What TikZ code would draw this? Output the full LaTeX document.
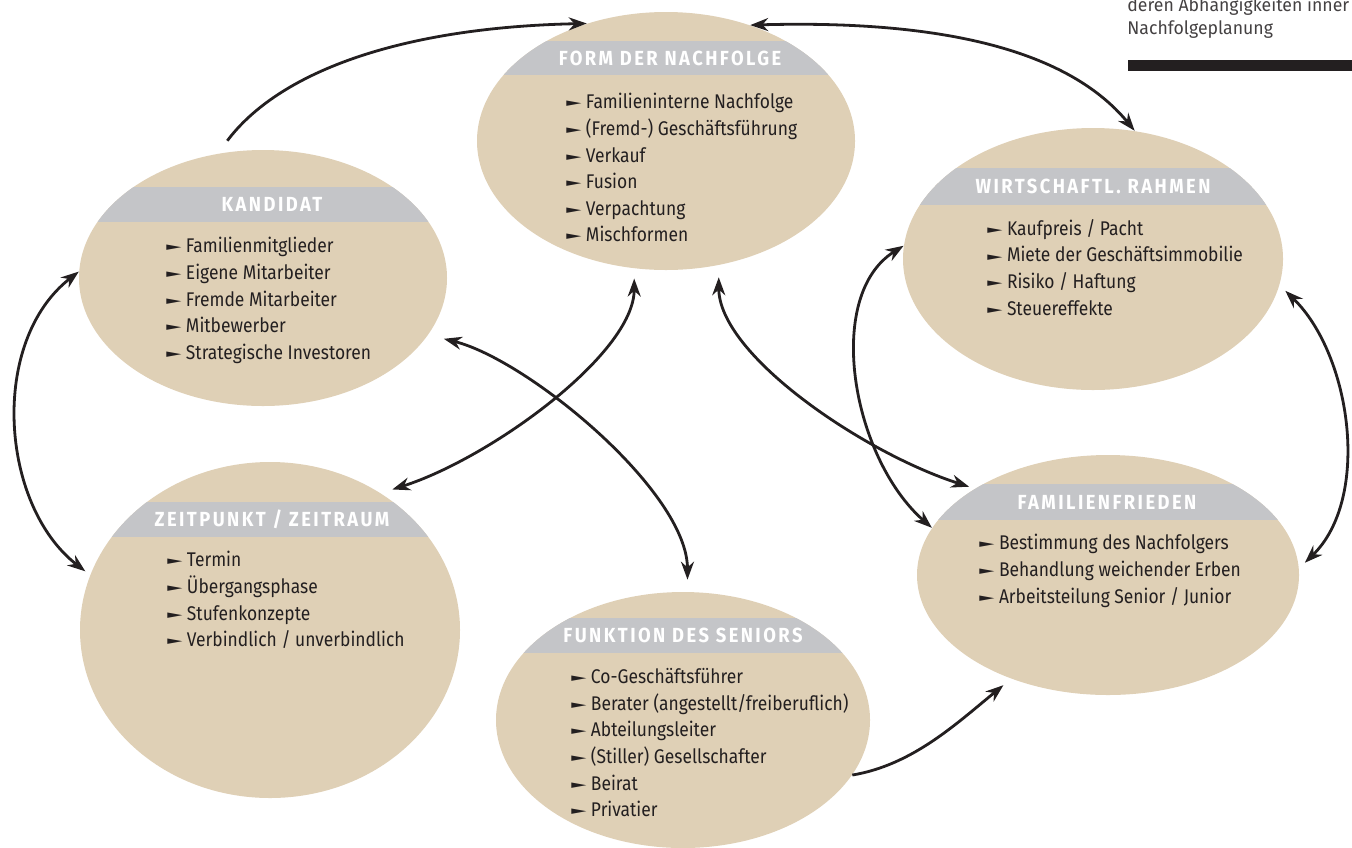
\documentclass[tikz,border=0pt]{standalone}
\usepackage{fontspec}
\setmainfont{Fira Sans}
\newfontfamily\listfont{Fira Sans}[FakeStretch=0.88]
\newfontfamily\headfont{Fira Sans}[LetterSpace=12, FakeStretch=0.9]
\newfontfamily\notefont{Fira Sans}[FakeStretch=0.96]
\newfontfamily\tipfont{DejaVu Sans}
\usepackage{tikz}
\usetikzlibrary{shapes.geometric,arrows.meta,calc}
\definecolor{ovalbeige}{HTML}{DFD0B6}
\definecolor{bandgray}{HTML}{C4C5C8}
\definecolor{inkdark}{HTML}{231F20}
\newcommand{\pointer}{\raisebox{0.1em}{\scalebox{1.0}[0.55]{\tipfont ►}}\hspace{0.22em}}

\tikzset{
  oval/.style n args={4}{ellipse, fill=ovalbeige, inner sep=0pt,
    minimum width=#1, minimum height=#2,
    path picture={\fill[bandgray]
      ($(path picture bounding box.north west)+(0,#3)$) rectangle
      ($(path picture bounding box.north east)+(0,#4)$);}},
  headline/.style={font=\headfont\bfseries\fontsize{10.2}{11}\selectfont, text=white, inner sep=0pt},
  itemlist/.style={font=\listfont\fontsize{9.9}{13.3}\selectfont, text=inkdark,
    align=left, anchor=north west, inner sep=0pt},
  twoarrow/.style={draw=inkdark, line width=1.4pt,
    {Stealth[length=9pt,width=6.5pt]}-{Stealth[length=9pt,width=6.5pt]}},
  onearrow/.style={draw=inkdark, line width=1.4pt, -{Stealth[length=9pt,width=6.5pt]}},
}

\begin{document}
\begin{tikzpicture}[x=0.5pt, y=-0.5pt]
  \useasboundingbox (0,0) rectangle (1352,847);

  % ovals with their grey title band
  \node[oval={189pt}{129pt}{29}{63}] (form) at (666,141) {};
  \node[oval={184pt}{128pt}{37}{72}] (kand) at (263,278) {};
  \node[oval={190pt}{168pt}{40}{75}] (zeit) at (270,630) {};
  \node[oval={190pt}{131pt}{40}{77}] (wirt) at (1093,259) {};
  \node[oval={191pt}{120pt}{29}{65}] (fam)  at (1108,575) {};
  \node[oval={187pt}{128pt}{26}{61}] (funk) at (683,720) {};

  % titles
  \node[headline] (formhead) at (670,58)    {FORM DER NACHFOLGE};
  \node[headline] (kandhead) at (272,204.5) {KANDIDAT};
  \node[headline] (zeithead) at (272,519.5) {ZEITPUNKT / ZEITRAUM};
  \node[headline] (wirthead) at (1093,186.5) {WIRTSCHAFTL. RAHMEN};
  \node[headline] (famhead)  at (1107,502)  {FAMILIENFRIEDEN};
  \node[headline] (funkhead) at (683,635.5) {FUNKTION DES SENIORS};

  % lists
  \node[itemlist] (formlist) at (566,93) {\pointer Familieninterne Nachfolge\\
    \pointer (Fremd-) Geschäftsführung\\ \pointer Verkauf\\ \pointer Fusion\\
    \pointer Verpachtung\\ \pointer Mischformen};
  \node[itemlist] (kandlist) at (166,237) {\pointer Familienmitglieder\\
    \pointer Eigene Mitarbeiter\\ \pointer Fremde Mitarbeiter\\ \pointer Mitbewerber\\
    \pointer Strategische Investoren};
  \node[itemlist] (zeitlist) at (167,551) {\pointer Termin\\ \pointer Übergangsphase\\
    \pointer Stufenkonzepte\\ \pointer Verbindlich / unverbindlich};
  \node[itemlist] (wirtlist) at (987,219) {\pointer Kaufpreis / Pacht\\
    \pointer Miete der Geschäftsimmobilie\\ \pointer Risiko / Haftung\\
    \pointer Steuereffekte};
  \node[itemlist] (famlist) at (979,534) {\pointer Bestimmung des Nachfolgers\\
    \pointer Behandlung weichender Erben\\ \pointer Arbeitsteilung Senior / Junior};
  \node[itemlist] (funklist) at (571,668) {\pointer Co-Geschäftsführer\\
    \pointer Berater (angestellt/freiberuflich)\\ \pointer Abteilungsleiter\\
    \pointer (Stiller) Gesellschafter\\ \pointer Beirat\\ \pointer Privatier};

  % caption corner
  \node[anchor=north west, align=left, inner sep=0pt, text=inkdark!85,
    font=\notefont\fontsize{9.2}{11.5}\selectfont] (note) at (1127,-3)
    {deren Abhängigkeiten inner\\Nachfolgeplanung};
  \fill[inkdark] (1128,60) rectangle (1352,71);

  % links
  \draw[onearrow, shorten <=8pt] (kand.110) .. controls +(60,-80) and +(-190,4) .. (form.124);
  \draw[twoarrow] (form.54) .. controls +(180,-5) and +(-70,-85) .. (wirt.72);
  \draw[twoarrow, shorten >=3pt] (kand.178) .. controls +(-90,70) and +(-90,-70) .. (zeit.163);
  \draw[twoarrow, shorten <=4pt, shorten >=4pt] (wirt.-8) .. controls +(72,70) and +(72,-70) .. (fam.2);
  \draw[twoarrow, shorten <=5pt, shorten >=6pt] (form.256) .. controls +(0,85) and +(110,-35) .. (zeit.51);
  \draw[twoarrow, shorten <=8pt, shorten >=6pt] (kand.-19) .. controls +(100,25) and +(0,-100) .. (funk.88);
  \draw[twoarrow, shorten <=6pt, shorten >=3pt] (form.293) .. controls +(0,90) and +(-110,-35) .. (fam.147);
  \draw[twoarrow] (wirt.176) .. controls +(-80,50) and +(-80,-70) .. (fam.165);
  \draw[onearrow, shorten >=5pt] (funk.342) .. controls +(60,-10) and +(-55,45) .. (fam.227);
\end{tikzpicture}
\end{document}
